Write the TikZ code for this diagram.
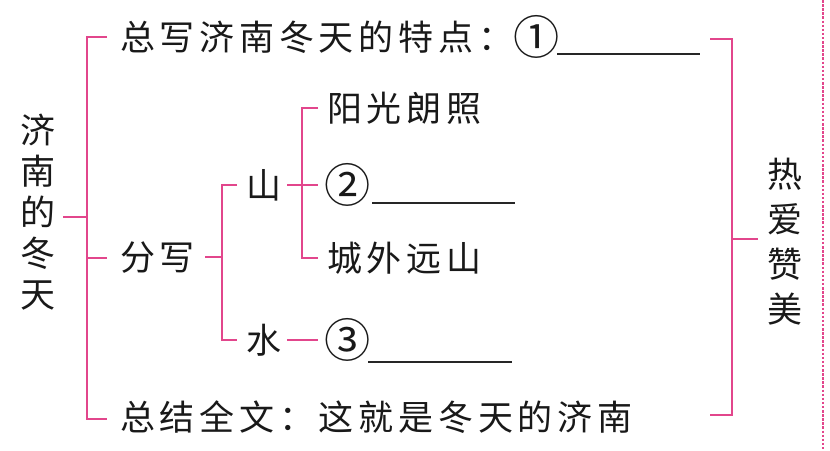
\documentclass[tikz,border=0pt]{standalone}
\usepackage{fontspec}
\usepackage{graphicx}
\newfontfamily\cjk[LetterSpace=13.6]{Noto Sans CJK SC}
\newfontfamily\cjkv{Noto Sans CJK SC}
\newcommand{\cnum}[1]{\raisebox{-4.5pt}{\scalebox{1.32}{#1}}}
\definecolor{pinkline}{RGB}{226,70,140}
\tikzset{
  txt/.style={font=\cjk\fontsize{35}{35}\selectfont, inner sep=0pt, anchor=west, text=black!90},
  vtxt/.style={font=\cjkv\fontsize{35}{41}\selectfont, inner sep=0pt, align=center, text=black!90},
  br/.style={draw=pinkline, line width=1.6pt},
  blank/.style={draw=black!85, line width=1.8pt},
  dotline/.style={draw=pinkline, line width=2pt, dash pattern=on 2.5pt off 1.6pt}
}
\begin{document}
\begin{tikzpicture}[x=1pt,y=-1pt]
\useasboundingbox (0,0) rectangle (830,450);
% texts
\node[vtxt] (root) at (38,212) {济\\南\\的\\冬\\天};
\node[vtxt, font=\cjkv\fontsize{35}{45}\selectfont] (ra) at (785,242) {热\\爱\\赞\\美};
\node[txt] (t1) at (120,37) {总写济南冬天的特点：\cnum{①}};
\node[txt] (fx) at (120,258) {分写};
\node[txt] (zj) at (120,417) {总结全文：这就是冬天的济南};
\node[txt] (shan) at (246,185) {山};
\node[txt] (shui) at (246,340) {水};
\node[txt] (yg) at (327,108) {阳光朗照};
\node[txt] (n2) at (324,185) {\cnum{②}};
\node[txt] (cw) at (327,258) {城外远山};
\node[txt] (n3) at (324,340) {\cnum{③}};
% answer blanks
\coordinate (b1s) at (557,54);  \coordinate (b1e) at (700,54);
\coordinate (b2s) at (372,203); \coordinate (b2e) at (515,203);
\coordinate (b3s) at (368,362); \coordinate (b3e) at (512,362);
\draw[blank] (b1s) -- (b1e);
\draw[blank] (b2s) -- (b2e);
\draw[blank] (b3s) -- (b3e);
% left main bracket
\coordinate (L) at (87,217);
\draw[br] (107,37) -- (87,37) -- (87,419) -- (107,419);
\draw[br] (87,258) -- (107,258);
\draw[br] (63,217) -- (L);
% fenxie bracket
\draw[br] (205,257) -- (222,257);
\draw[br] (237,185) -- (222,185) -- (222,340) -- (237,340);
% shan bracket
\draw[br] (287,185) -- (318,185);
\draw[br] (318,108) -- (302,108) -- (302,258) -- (318,258);
% shui tick
\draw[br] (287,340) -- (318,340);
% right bracket
\draw[br] (710,39) -- (732,39) -- (732,415) -- (710,415);
\draw[br] (732,239) -- (758,239);
% dotted margin line
\coordinate (dt) at (823,0); \coordinate (db) at (823,450);
\draw[dotline] (dt) -- (db);
\end{tikzpicture}
\end{document}
